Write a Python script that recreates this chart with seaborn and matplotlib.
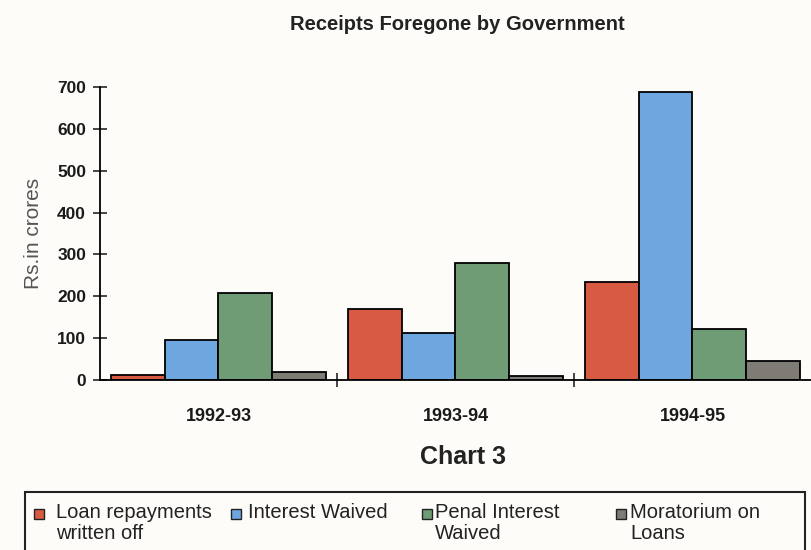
import matplotlib
matplotlib.use("Agg")
import pandas as pd
import seaborn as sns
from matplotlib import pyplot as plt
from matplotlib.patches import Rectangle

years = ["1992-93", "1993-94", "1994-95"]
series = ["Loan repayments\nwritten off", "Interest Waived",
          "Penal Interest\nWaived", "Moratorium on\nLoans"]
loan_written_off = [13, 170, 234]
interest_waived = [95, 112, 687]
penal_interest = [207, 280, 122]
moratorium = [20, 9, 46]
colors = ["#d85a42", "#6ea6df", "#6f9c74", "#7f7b75"]

rows = []
for name, vals in zip(series, [loan_written_off, interest_waived, penal_interest, moratorium]):
    for yr, v in zip(years, vals):
        rows.append({"year": yr, "series": name, "value": v})
df = pd.DataFrame(rows)

sns.set_style("white")
plt.rcParams['font.family'] = ['Liberation Sans', 'DejaVu Sans']
bg = "#fdfcf8"
W, H = 812, 550


def fx(px):
    return px / W


def fy(py):
    return 1 - py / H


fig = plt.figure(figsize=(8.12, 5.5), dpi=100, facecolor=bg)
ax = fig.add_axes([fx(100), fy(380), fx(711), 293 / H])
ax.set_facecolor(bg)

sns.barplot(data=df, x="year", y="value", hue="series", order=years, hue_order=series,
            palette=colors, width=0.906, gap=0, edgecolor="black", linewidth=1.3,
            saturation=1, legend=False, ax=ax)

ax.set_xlim(-0.5, 2.5)
ax.set_ylim(0, 700)
ax.set_yticks(range(0, 701, 100))
ax.set_xticks([0.5, 1.5], minor=True)
ax.tick_params(axis='y', left=True, direction='inout', length=10, width=1.2,
               labelsize=12.5, pad=5)
ax.tick_params(axis='x', which='major', bottom=True, length=0, labelsize=13, pad=20)
ax.tick_params(axis='x', which='minor', bottom=True, direction='inout', length=10, width=1.2)
for lbl in ax.get_yticklabels() + ax.get_xticklabels():
    lbl.set_fontweight('bold')
    lbl.set_color("#1a1a1a")
ax.set_xlabel("")
ax.set_ylabel("Rs.in crores", fontsize=15, color="#555555", labelpad=10)
for side in ["top", "right"]:
    ax.spines[side].set_visible(False)
for side in ["left", "bottom"]:
    ax.spines[side].set_color("black")
    ax.spines[side].set_linewidth(1.3)

fig.text(fx(457), fy(24), "Receipts Foregone by Government", ha="center", va="center",
         fontsize=14.5, fontweight="bold", color="#222222")
fig.text(fx(463), fy(457), "Chart 3", ha="center", va="center", fontsize=18,
         fontweight="bold", color="#222222")

# legend box (cut off at the bottom like the scan)
fig.patches.append(Rectangle((fx(25), fy(560)), fx(805 - 25), (560 - 492) / H,
                             transform=fig.transFigure, facecolor=bg, edgecolor="#222222",
                             linewidth=1.5, zorder=1))
marker_x = [34, 231, 422, 616]
text_x = [56, 248, 435, 630]
for c, name, mx, tx in zip(colors, series, marker_x, text_x):
    fig.patches.append(Rectangle((fx(mx), fy(519)), fx(10), 10 / H, transform=fig.transFigure,
                                 facecolor=c, edgecolor="#222222", linewidth=1, zorder=2))
    fig.text(fx(tx), fy(503), name, ha="left", va="top", fontsize=14.5,
             linespacing=1.15, color="#222222", zorder=3)

fig.savefig("out.png", dpi=100, facecolor=bg)
